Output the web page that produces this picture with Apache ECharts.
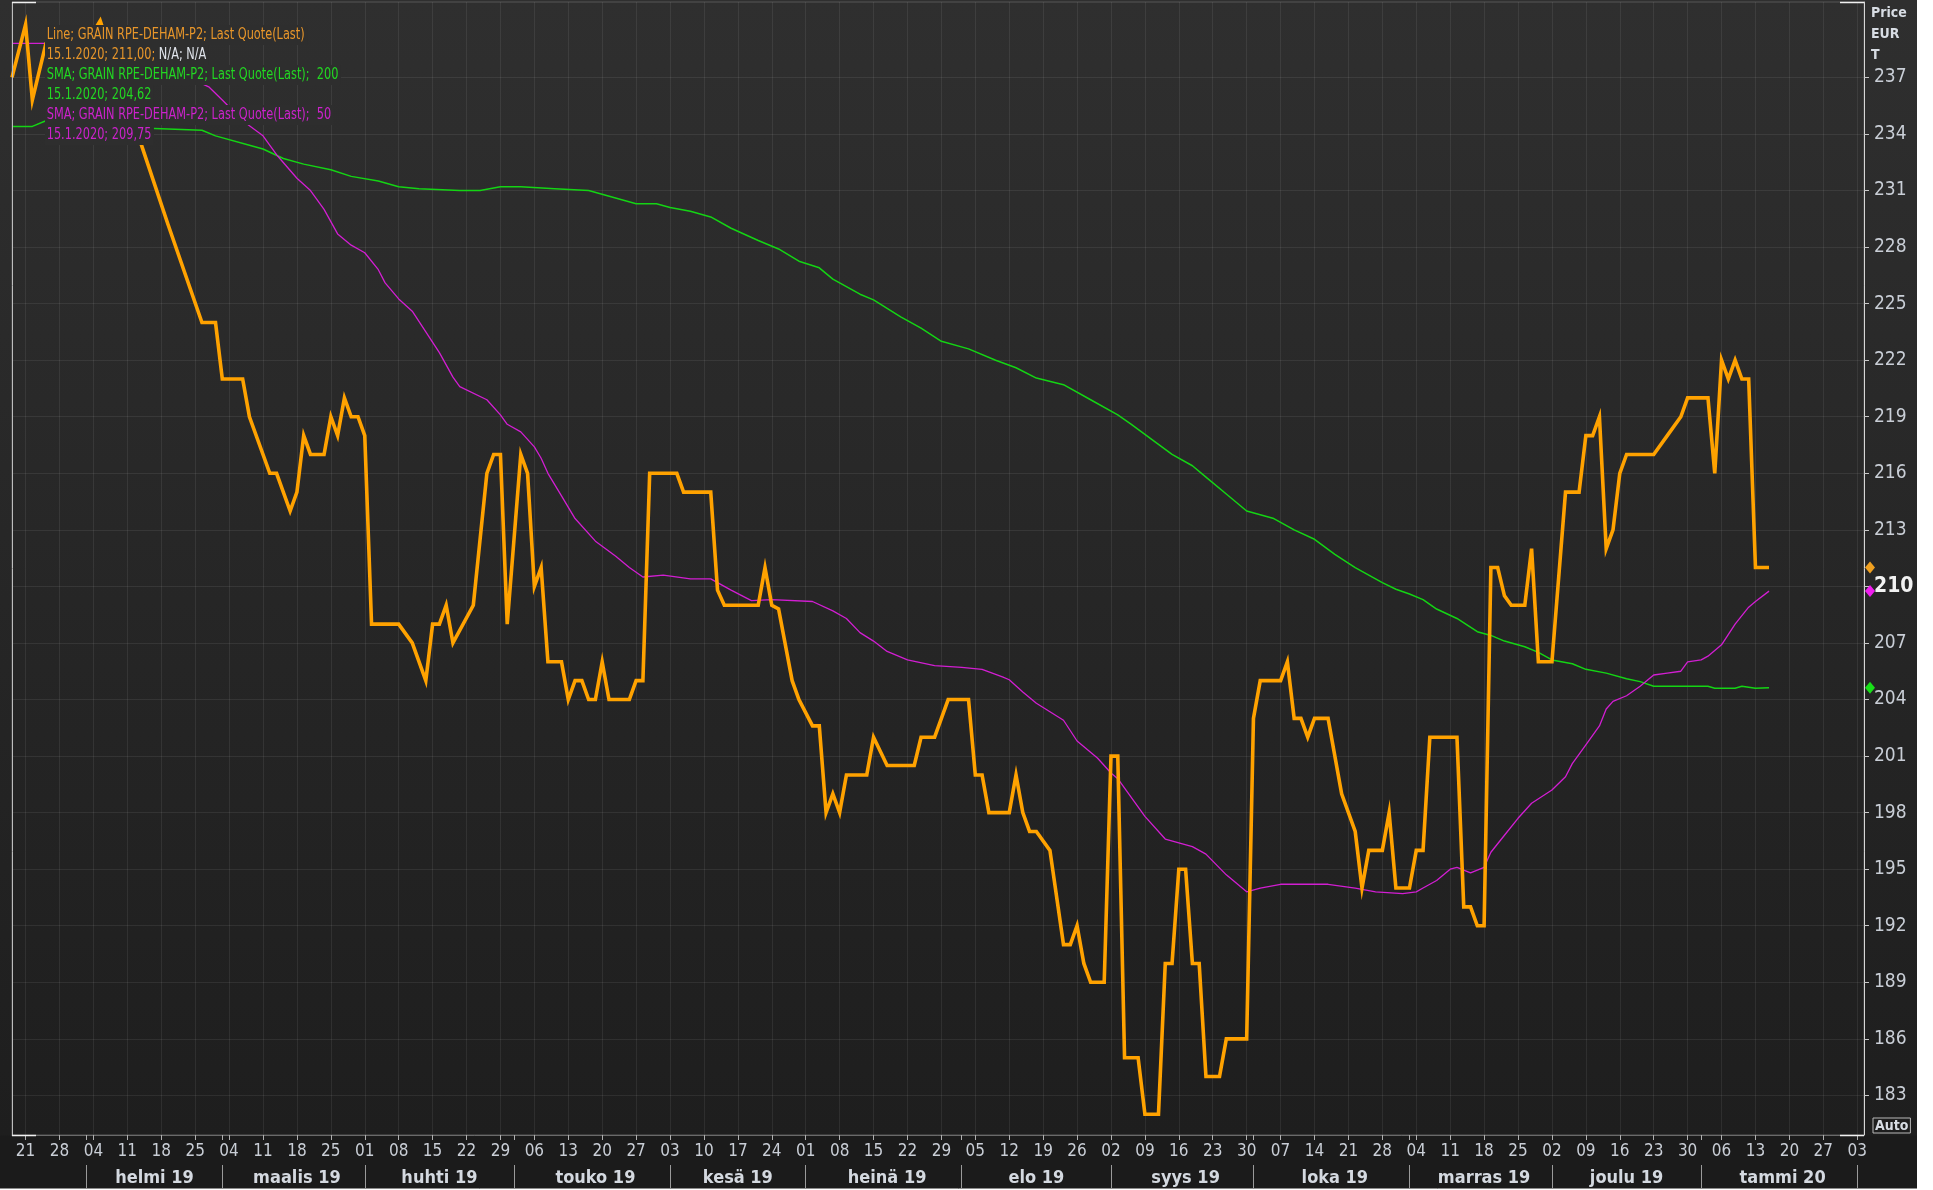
<!DOCTYPE html>
<html>
<head>
<meta charset="utf-8">
<title>GRAIN RPE-DEHAM-P2</title>
<script src="https://cdn.jsdelivr.net/npm/echarts@6/dist/echarts.min.js"></script>
<style>
  html, body { margin: 0; padding: 0; background: #ffffff; }
  #chart {
    width: 1917px;
    height: 1189px;
    background: linear-gradient(to bottom, #2f2f2f 0px, #1e1e1e 1135px, #1b1b1b 1136px, #1b1b1b 1189px);
  }
</style>
</head>
<body>
<div id="chart"></div>
<script>
  // trading days (weekdays) shown on the time axis
  var firstDay = Date.UTC(2019, 0, 17);
  var lastDay = Date.UTC(2020, 1, 4);
  var tradingDays = [];
  for (var t = firstDay; t <= lastDay; t += 86400000) {
    var wd = new Date(t).getUTCDay();
    if (wd !== 0 && wd !== 6) tradingDays.push(new Date(t).toISOString().slice(0, 10));
  }

  var monthKeys = ['2019-02', '2019-03', '2019-04', '2019-05', '2019-06', '2019-07',
                   '2019-08', '2019-09', '2019-10', '2019-11', '2019-12', '2020-01'];
  var monthLabels = ['helmi 19', 'maalis 19', 'huhti 19', 'touko 19', 'kesä 19', 'heinä 19',
                     'elo 19', 'syys 19', 'loka 19', 'marras 19', 'joulu 19', 'tammi 20'];

  var yTicks = [183, 186, 189, 192, 195, 198, 201, 204, 207, 210, 213, 216,
                219, 222, 225, 228, 231, 234, 237];

  // Line; GRAIN RPE-DEHAM-P2; Last Quote(Last)
  var priceDates = [
    '2019-01-17','2019-01-21','2019-01-22','2019-01-24','2019-01-28','2019-01-30','2019-02-01','2019-02-04',
    '2019-02-05','2019-02-13','2019-02-19','2019-02-26','2019-02-28','2019-03-01','2019-03-06','2019-03-07',
    '2019-03-12','2019-03-13','2019-03-15','2019-03-18','2019-03-19','2019-03-20','2019-03-22','2019-03-25',
    '2019-03-26','2019-03-27','2019-03-28','2019-03-29','2019-04-01','2019-04-02','2019-04-08','2019-04-10',
    '2019-04-12','2019-04-15','2019-04-16','2019-04-17','2019-04-18','2019-04-23','2019-04-25','2019-04-26',
    '2019-04-29','2019-04-30','2019-05-02','2019-05-03','2019-05-06','2019-05-07','2019-05-08','2019-05-10',
    '2019-05-13','2019-05-14','2019-05-15','2019-05-16','2019-05-17','2019-05-20','2019-05-21','2019-05-24',
    '2019-05-27','2019-05-28','2019-05-29','2019-06-04','2019-06-05','2019-06-11','2019-06-12','2019-06-13',
    '2019-06-20','2019-06-21','2019-06-24','2019-06-25','2019-06-27','2019-06-28','2019-07-02','2019-07-03',
    '2019-07-04','2019-07-05','2019-07-08','2019-07-09','2019-07-12','2019-07-15','2019-07-17','2019-07-23',
    '2019-07-24','2019-07-26','2019-07-30','2019-08-02','2019-08-05','2019-08-06','2019-08-07','2019-08-12',
    '2019-08-13','2019-08-14','2019-08-15','2019-08-16','2019-08-20','2019-08-22','2019-08-23','2019-08-26',
    '2019-08-27','2019-08-28','2019-08-30','2019-09-02','2019-09-03','2019-09-04','2019-09-06','2019-09-09',
    '2019-09-11','2019-09-12','2019-09-13','2019-09-16','2019-09-17','2019-09-18','2019-09-19','2019-09-20',
    '2019-09-24','2019-09-25','2019-09-30','2019-10-01','2019-10-02','2019-10-07','2019-10-08','2019-10-09',
    '2019-10-10','2019-10-11','2019-10-14','2019-10-16','2019-10-18','2019-10-22','2019-10-23','2019-10-24',
    '2019-10-28','2019-10-29','2019-10-30','2019-11-01','2019-11-04','2019-11-05','2019-11-06','2019-11-12',
    '2019-11-13','2019-11-14','2019-11-15','2019-11-18','2019-11-19','2019-11-20','2019-11-21','2019-11-22',
    '2019-11-26','2019-11-27','2019-11-28','2019-12-02','2019-12-04','2019-12-06','2019-12-09','2019-12-10',
    '2019-12-11','2019-12-12','2019-12-13','2019-12-16','2019-12-17','2019-12-23','2019-12-25','2019-12-27',
    '2019-12-30','2020-01-02','2020-01-03','2020-01-06','2020-01-07','2020-01-08','2020-01-09','2020-01-10',
    '2020-01-13','2020-01-15'
  ];
  var priceValues = [
    237.0, 239.8, 235.8, 238.8, 239.3, 237.8, 238.6, 239.4,
    240.0, 233.5, 229.2, 224.0, 224.0, 221.0, 221.0, 219.0,
    216.0, 216.0, 214.0, 215.0, 218.0, 217.0, 217.0, 219.0,
    218.0, 220.0, 219.0, 219.0, 218.0, 208.0, 208.0, 207.0,
    205.0, 208.0, 208.0, 209.0, 207.0, 209.0, 216.0, 217.0,
    217.0, 208.0, 217.0, 216.0, 210.0, 211.0, 206.0, 206.0,
    204.0, 205.0, 205.0, 204.0, 204.0, 206.0, 204.0, 204.0,
    205.0, 205.0, 216.0, 216.0, 215.0, 215.0, 209.8, 209.0,
    209.0, 211.0, 209.0, 208.8, 205.0, 204.0, 202.6, 202.6,
    198.0, 199.0, 198.0, 200.0, 200.0, 202.0, 200.5, 200.5,
    202.0, 202.0, 204.0, 204.0, 200.0, 200.0, 198.0, 198.0,
    200.0, 198.0, 197.0, 197.0, 196.0, 191.0, 191.0, 192.0,
    190.0, 189.0, 189.0, 201.0, 201.0, 185.0, 185.0, 182.0,
    182.0, 190.0, 190.0, 195.0, 195.0, 190.0, 190.0, 184.0,
    184.0, 186.0, 186.0, 203.0, 205.0, 205.0, 206.0, 203.0,
    203.0, 202.0, 203.0, 203.0, 199.0, 197.0, 194.0, 196.0,
    196.0, 198.0, 194.0, 194.0, 196.0, 196.0, 202.0, 202.0,
    193.0, 193.0, 192.0, 192.0, 211.0, 211.0, 209.5, 209.0,
    209.0, 212.0, 206.0, 206.0, 215.0, 215.0, 218.0, 218.0,
    219.0, 212.0, 213.0, 216.0, 217.0, 217.0, 218.0, 219.0,
    220.0, 220.0, 216.0, 222.0, 221.0, 222.0, 221.0, 221.0,
    211.0, 211.0
  ];

  // SMA 200
  var sma200Dates = [
    '2019-01-17','2019-01-22','2019-01-24','2019-02-04','2019-02-11','2019-02-14','2019-02-26','2019-02-28',
    '2019-03-07','2019-03-11','2019-03-14','2019-03-19','2019-03-25','2019-03-28','2019-04-03','2019-04-08',
    '2019-04-11','2019-04-19','2019-04-24','2019-04-29','2019-05-02','2019-05-09','2019-05-16','2019-05-27',
    '2019-05-30','2019-06-03','2019-06-06','2019-06-11','2019-06-14','2019-06-20','2019-06-25','2019-06-28',
    '2019-07-03','2019-07-05','2019-07-11','2019-07-15','2019-07-19','2019-07-24','2019-07-29','2019-08-02',
    '2019-08-08','2019-08-13','2019-08-16','2019-08-22','2019-08-28','2019-09-03','2019-09-05','2019-09-10',
    '2019-09-13','2019-09-18','2019-09-20','2019-09-25','2019-09-30','2019-10-04','2019-10-09','2019-10-14',
    '2019-10-17','2019-10-22','2019-10-28','2019-10-30','2019-11-01','2019-11-05','2019-11-07','2019-11-12',
    '2019-11-15','2019-11-19','2019-11-21','2019-11-26','2019-11-28','2019-12-02','2019-12-05','2019-12-09',
    '2019-12-12','2019-12-17','2019-12-19','2019-12-23','2020-01-02','2020-01-03','2020-01-08','2020-01-09',
    '2020-01-13','2020-01-15'
  ];
  var sma200Values = [
    234.4, 234.4, 234.7, 234.8, 234.5, 234.3, 234.2, 233.9,
    233.4, 233.2, 232.7, 232.4, 232.1, 231.75, 231.5, 231.2,
    231.1, 231.0, 231.0, 231.2, 231.2, 231.1, 231.0, 230.3,
    230.3, 230.1, 229.9, 229.6, 229.0, 228.35, 227.9, 227.25,
    226.9, 226.3, 225.5, 225.2, 224.3, 223.7, 223.0, 222.6,
    222.0, 221.6, 221.05, 220.7, 219.9, 219.1, 218.6, 217.8,
    217.0, 216.4, 215.8, 214.9, 214.0, 213.6, 213.0, 212.5,
    211.7, 211.0, 210.2, 209.85, 209.6, 209.3, 208.8, 208.3,
    207.6, 207.4, 207.1, 206.8, 206.5, 206.1, 205.9, 205.6,
    205.4, 205.1, 204.95, 204.7, 204.7, 204.6, 204.6, 204.7,
    204.6, 204.62
  ];

  // SMA 50
  var sma50Dates = [
    '2019-01-17','2019-01-24','2019-02-04','2019-02-14','2019-02-22','2019-02-27','2019-03-01','2019-03-06',
    '2019-03-11','2019-03-13','2019-03-18','2019-03-20','2019-03-22','2019-03-26','2019-03-28','2019-04-01',
    '2019-04-03','2019-04-04','2019-04-08','2019-04-10','2019-04-12','2019-04-16','2019-04-18','2019-04-19',
    '2019-04-25','2019-04-29','2019-04-30','2019-05-02','2019-05-06','2019-05-07','2019-05-08','2019-05-10',
    '2019-05-14','2019-05-17','2019-05-22','2019-05-24','2019-05-28','2019-05-31','2019-06-06','2019-06-11',
    '2019-06-14','2019-06-19','2019-06-24','2019-07-02','2019-07-05','2019-07-09','2019-07-11','2019-07-15',
    '2019-07-17','2019-07-22','2019-07-26','2019-08-01','2019-08-06','2019-08-09','2019-08-12','2019-08-14',
    '2019-08-16','2019-08-20','2019-08-22','2019-08-26','2019-08-29','2019-09-02','2019-09-03','2019-09-09',
    '2019-09-12','2019-09-18','2019-09-20','2019-09-25','2019-09-30','2019-10-02','2019-10-07','2019-10-10',
    '2019-10-16','2019-10-22','2019-10-25','2019-10-31','2019-11-04','2019-11-05','2019-11-07','2019-11-11',
    '2019-11-12','2019-11-14','2019-11-18','2019-11-19','2019-11-21','2019-11-25','2019-11-27','2019-12-02',
    '2019-12-04','2019-12-05','2019-12-09','2019-12-11','2019-12-12','2019-12-13','2019-12-17','2019-12-19',
    '2019-12-23','2019-12-25','2019-12-27','2019-12-30','2020-01-01','2020-01-02','2020-01-06','2020-01-08',
    '2020-01-10','2020-01-13','2020-01-15'
  ];
  var sma50Values = [
    238.8, 238.8, 238.5, 237.6, 237.0, 236.5, 235.8, 234.7,
    233.9, 232.9, 231.65, 231.0, 230.0, 228.7, 228.1, 227.7,
    226.8, 226.1, 225.25, 224.6, 223.5, 222.4, 221.1, 220.6,
    219.9, 219.1, 218.6, 218.2, 217.4, 216.8, 216.0, 214.8,
    213.6, 212.4, 211.6, 211.0, 210.5, 210.6, 210.4, 210.4,
    209.8, 209.25, 209.3, 209.2, 208.7, 208.3, 207.55, 207.1,
    206.55, 206.1, 205.8, 205.7, 205.6, 205.2, 205.05, 204.4,
    203.8, 203.35, 202.9, 201.8, 200.9, 200.1, 199.8, 197.8,
    196.6, 196.2, 195.8, 194.7, 193.8, 194.0, 194.2, 194.2,
    194.2, 194.0, 193.8, 193.7, 193.8, 194.0, 194.4, 195.0,
    195.1, 194.8, 195.1, 195.9, 196.8, 197.7, 198.5, 199.2,
    199.9, 200.6, 201.6, 202.6, 203.5, 203.9, 204.2, 204.7,
    205.3, 205.4, 205.5, 206.0, 206.1, 206.3, 206.9, 208.0,
    208.9, 209.2, 209.75
  ];

  function pairs(dates, values) {
    return dates.map(function (d, i) { return [d, values[i]]; });
  }

  var FONT = "'Liberation Sans Narrow', 'DejaVu Sans Condensed', sans-serif";
  var LABEL = '#c9ced6';
  var ORANGE = '#ffa200';
  var GREEN = '#14d414';
  var MAGENTA = '#d21ed2';
  var endDay = tradingDays[tradingDays.length - 1];

  function isMonday(v) {
    return new Date(v + 'T00:00:00Z').getUTCDay() === 1;
  }
  function isMonthStart(i) {
    return i > 0 && tradingDays[i].slice(5, 7) !== tradingDays[i - 1].slice(5, 7);
  }

  // month label sits in the middle of each full month
  var starts = [];
  tradingDays.forEach(function (d, i) { if (isMonthStart(i)) starts.push(i); });
  var monthMid = {};
  for (var k = 0; k < starts.length - 1; k++) {
    monthMid[Math.round((starts[k] + starts[k + 1]) / 2)] = true;
  }
  var monthName = {};
  monthKeys.forEach(function (m, i) { monthName[m] = monthLabels[i]; });

  var chart = echarts.init(document.getElementById('chart'));

  function legendRow(y, text, color, rich) {
    var style = {
      text: text,
      fill: color,
      font: '15px ' + FONT,
      verticalAlign: 'middle',
      backgroundColor: '#2e2e2e',
      padding: [3, 3, 2, 2]
    };
    if (rich) style.rich = rich;
    return { type: 'text', x: 45, y: y, scaleX: 0.84, z: 50, silent: true, style: style };
  }

  chart.setOption({
    animation: false,
    grid: { left: 12, right: 53, top: 2, bottom: 54, show: true, borderColor: '#575757', borderWidth: 1 },
    xAxis: [
      {
        type: 'category',
        data: tradingDays,
        boundaryGap: false,
        axisLine: { lineStyle: { color: '#6a6a6a' } },
        axisTick: {
          interval: function (i, v) { return isMonday(v) || isMonthStart(i); },
          length: 5,
          lineStyle: { color: '#b0b0b0' }
        },
        axisLabel: {
          interval: function (i, v) { return isMonday(v); },
          formatter: function (v) { return v.slice(8, 10); },
          color: LABEL,
          fontFamily: FONT,
          fontSize: 17,
          margin: 8
        },
        splitLine: {
          show: true,
          interval: function (i, v) { return isMonday(v); },
          lineStyle: { color: 'rgba(255,255,255,0.075)' }
        }
      },
      {
        type: 'category',
        data: tradingDays,
        boundaryGap: false,
        position: 'bottom',
        offset: 30,
        axisLine: { show: false },
        axisTick: {
          interval: function (i) { return isMonthStart(i); },
          length: 24,
          lineStyle: { color: '#9a9a9a' }
        },
        axisLabel: {
          interval: function (i) { return !!monthMid[i]; },
          formatter: function (v) { return monthName[v.slice(0, 7)] || ''; },
          color: '#d4d9e0',
          fontFamily: FONT,
          fontSize: 18,
          fontWeight: 'bold',
          margin: 4
        },
        splitLine: { show: false }
      }
    ],
    yAxis: {
      type: 'value',
      position: 'right',
      min: 180.9,
      max: 241,
      axisLine: { show: true, lineStyle: { color: '#d6d6d6' } },
      axisTick: { show: true, length: 5, customValues: yTicks, lineStyle: { color: '#c8c8c8' } },
      axisLabel: {
        customValues: yTicks,
        color: LABEL,
        fontFamily: FONT,
        fontSize: 19,
        margin: 10,
        formatter: function (v) { return v === 210 ? '{cur|210}' : String(v); },
        rich: { cur: { fontFamily: FONT, fontSize: 21, fontWeight: 'bold', color: '#f2f2f2' } }
      },
      splitLine: { show: true, customValues: yTicks, lineStyle: { color: 'rgba(255,255,255,0.075)' } }
    },
    series: [
      {
        name: 'SMA 200',
        type: 'line',
        data: pairs(sma200Dates, sma200Values),
        symbol: 'none',
        lineStyle: { color: GREEN, width: 1.5 },
        z: 3,
        markPoint: {
          symbol: 'diamond', symbolSize: [10, 12], symbolOffset: [6, 0], silent: true,
          label: { show: false }, itemStyle: { color: '#18e018' },
          data: [{ coord: [endDay, sma200Values[sma200Values.length - 1]] }]
        }
      },
      {
        name: 'SMA 50',
        type: 'line',
        data: pairs(sma50Dates, sma50Values),
        symbol: 'none',
        lineStyle: { color: MAGENTA, width: 1.3 },
        z: 3,
        markPoint: {
          symbol: 'diamond', symbolSize: [10, 12], symbolOffset: [6, 0], silent: true,
          label: { show: false }, itemStyle: { color: '#f01ef0' },
          data: [{ coord: [endDay, sma50Values[sma50Values.length - 1]] }]
        }
      },
      {
        name: 'Line',
        type: 'line',
        data: pairs(priceDates, priceValues),
        symbol: 'none',
        lineStyle: { color: ORANGE, width: 3.6, join: 'miter' },
        z: 4,
        markPoint: {
          symbol: 'diamond', symbolSize: [10, 12], symbolOffset: [6, 0], silent: true,
          label: { show: false }, itemStyle: { color: '#f0a020' },
          data: [{ coord: [endDay, priceValues[priceValues.length - 1]] }]
        }
      }
    ],
    graphic: [
      legendRow(35, 'Line; GRAIN RPE-DEHAM-P2; Last Quote(Last)', '#e8962a'),
      legendRow(55, '{a|15.1.2020; 211,00; }{b|N/A; N/A}', '#e8962a', {
        a: { fill: '#e8962a', font: '15px ' + FONT },
        b: { fill: '#dfe3ea', font: '15px ' + FONT }
      }),
      legendRow(75, 'SMA; GRAIN RPE-DEHAM-P2; Last Quote(Last);  200', '#22d822'),
      legendRow(95, '15.1.2020; 204,62', '#22d822'),
      legendRow(115, 'SMA; GRAIN RPE-DEHAM-P2; Last Quote(Last);  50', '#cc22cc'),
      legendRow(135, '15.1.2020; 209,75', '#cc22cc'),
      {
        type: 'text', x: 1871, y: 3, z: 50, silent: true,
        style: { text: 'Price\nEUR\nT', fill: '#d8dde4', font: 'bold 14px ' + FONT, lineHeight: 21 }
      },
      {
        type: 'text', x: 1873, y: 1118, z: 50, silent: true,
        style: {
          text: 'Auto', fill: '#d8dde4', font: 'bold 14px ' + FONT,
          borderColor: '#b8b8b8', borderWidth: 1, padding: [1, 2, 0, 2]
        }
      },
      // frame: light side lines and white corners
      { type: 'line', z: 60, silent: true, shape: { x1: 12.5, y1: 2, x2: 12.5, y2: 1135 }, style: { stroke: '#bdbdbd', lineWidth: 1 } },
      { type: 'line', z: 60, silent: true, shape: { x1: 12, y1: 2.5, x2: 36, y2: 2.5 }, style: { stroke: '#f0f0f0', lineWidth: 1.5 } },
      { type: 'line', z: 60, silent: true, shape: { x1: 12, y1: 1135.5, x2: 36, y2: 1135.5 }, style: { stroke: '#f0f0f0', lineWidth: 1.5 } },
      { type: 'line', z: 60, silent: true, shape: { x1: 1840, y1: 2.5, x2: 1864, y2: 2.5 }, style: { stroke: '#f0f0f0', lineWidth: 1.5 } },
      { type: 'line', z: 60, silent: true, shape: { x1: 1840, y1: 1135.5, x2: 1864, y2: 1135.5 }, style: { stroke: '#f0f0f0', lineWidth: 1.5 } },
      { type: 'line', z: 60, silent: true, shape: { x1: 0, y1: 1188.5, x2: 1917, y2: 1188.5 }, style: { stroke: '#8c8c8c', lineWidth: 1 } }
    ]
  });
</script>
</body>
</html>
